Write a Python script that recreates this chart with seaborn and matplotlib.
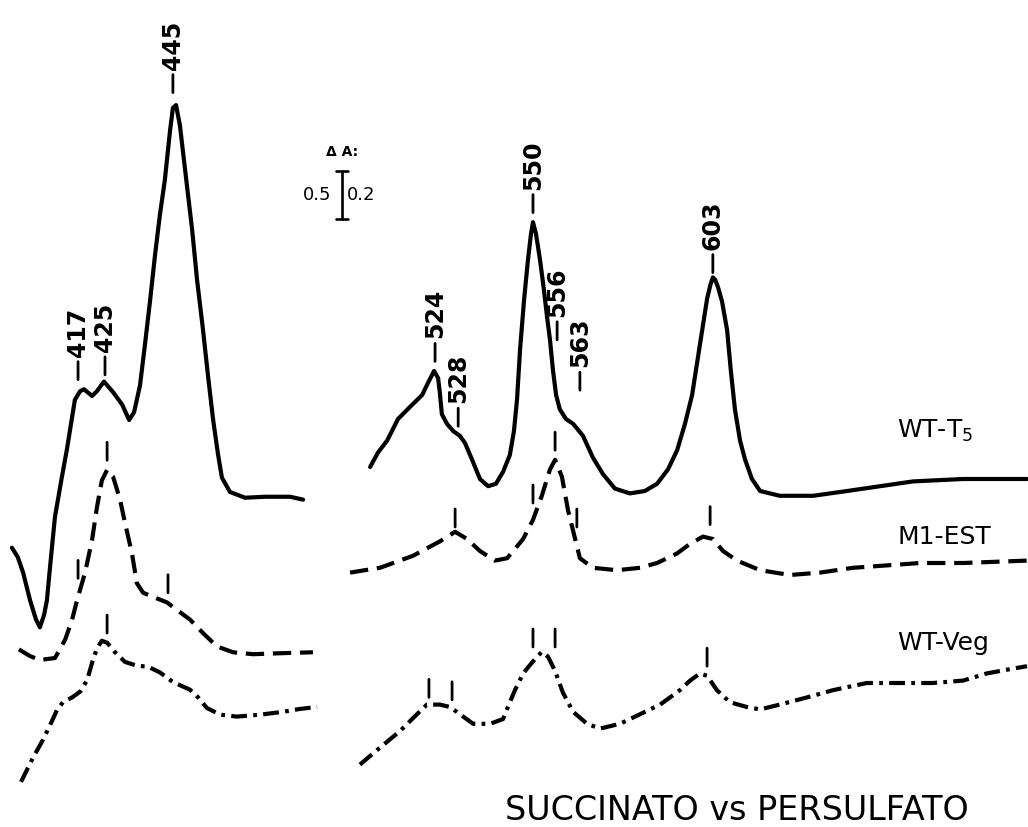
import matplotlib
matplotlib.use("Agg")
import matplotlib.pyplot as plt
from matplotlib.lines import Line2D
import pandas as pd
import seaborn as sns

# ---------------- data ----------------
# Soret region, wavelength in nm, absorbance change in ΔA (scale: 0.5 per bar)
soret_wt_t5_nm = [398.4, 400.1, 401.6, 403.6, 405.3, 406.4, 407.6, 408.4, 409.3, 410.7,
                  412.7, 414.1, 415.6, 416.4, 417.9, 419.0, 421.3, 422.7, 424.7, 427.3,
                  429.9, 431.9, 433.3, 435.0, 436.4, 437.9, 439.3, 440.7, 442.1, 443.6,
                  444.4, 445.3, 446.4, 447.9, 449.9, 451.3, 453.0, 454.4, 455.9, 457.3,
                  458.4, 460.7, 465.0, 470.7, 477.9, 481.6]
soret_wt_t5_dA = [2.91, 2.81, 2.65, 2.36, 2.16, 2.08, 2.21, 2.36, 2.71, 3.23,
                  3.65, 3.93, 4.27, 4.45, 4.54, 4.56, 4.49, 4.54, 4.64, 4.53,
                  4.40, 4.24, 4.32, 4.60, 5.02, 5.49, 5.96, 6.38, 6.74, 7.26,
                  7.49, 7.52, 7.31, 6.84, 6.22, 5.70, 5.18, 4.71, 4.24, 3.88,
                  3.64, 3.49, 3.43, 3.44, 3.44, 3.41]

soret_m1_est_nm = [400.4, 403.6, 406.4, 410.7, 413.6, 415.6, 417.0, 419.3, 421.3, 422.7,
                   424.1, 425.6, 427.3, 429.3, 430.7, 432.7, 434.1, 435.9, 439.9, 442.7,
                   445.6, 449.3, 453.0, 457.0, 461.6, 467.3, 475.0, 484.4]
soret_m1_est_dA = [1.85, 1.78, 1.74, 1.76, 1.95, 2.16, 2.36, 2.65, 2.99, 3.33,
                   3.61, 3.72, 3.65, 3.41, 3.17, 2.85, 2.54, 2.44, 2.38, 2.34,
                   2.26, 2.16, 2.02, 1.88, 1.82, 1.80, 1.81, 1.82]

soret_wt_veg_nm = [401.0, 404.4, 407.3, 409.3, 411.3, 413.0, 415.6, 417.9, 419.9, 421.3,
                   422.7, 424.1, 425.6, 427.9, 430.7, 434.1, 437.3, 440.7, 444.4, 449.3,
                   451.6, 454.1, 457.9, 462.7, 469.3, 475.9, 480.7, 485.6]
soret_wt_veg_dA = [0.47, 0.72, 0.91, 1.06, 1.22, 1.30, 1.35, 1.41, 1.53, 1.71,
                   1.86, 1.94, 1.92, 1.82, 1.72, 1.68, 1.67, 1.61, 1.51, 1.43,
                   1.35, 1.24, 1.17, 1.15, 1.17, 1.20, 1.23, 1.25]

# Visible (alpha/beta) region, ΔA scale: 0.2 per bar
vis_wt_t5_nm = [502.1, 504.4, 507.1, 510.3, 513.8, 517.4, 519.1, 520.9, 522.1, 522.6,
                523.2, 524.7, 526.5, 528.5, 530.0, 532.1, 534.4, 536.8, 539.1, 541.2,
                543.2, 544.4, 545.3, 546.2, 547.4, 548.5, 549.4, 550.0, 550.9, 552.1,
                553.2, 554.1, 555.0, 555.9, 556.8, 557.9, 559.7, 561.8, 564.7, 567.6,
                570.6, 574.1, 578.5, 582.9, 586.5, 589.7, 592.4, 594.7, 596.8, 599.1,
                601.2, 602.2, 602.9, 603.6, 604.4, 605.6, 607.1, 608.2, 609.4, 610.9,
                612.4, 614.4, 616.8, 622.6, 632.4, 642.4, 652.1, 661.8, 676.5, 695.3]
vis_wt_t5_dA = [1.50, 1.56, 1.61, 1.70, 1.75, 1.80, 1.85, 1.90, 1.87, 1.81,
                1.72, 1.68, 1.65, 1.63, 1.60, 1.53, 1.45, 1.42, 1.43, 1.48,
                1.55, 1.65, 1.78, 1.99, 2.20, 2.36, 2.47, 2.52, 2.47, 2.36,
                2.24, 2.13, 2.03, 1.90, 1.80, 1.74, 1.70, 1.68, 1.63, 1.54,
                1.47, 1.41, 1.39, 1.40, 1.43, 1.49, 1.57, 1.68, 1.80, 2.01,
                2.20, 2.26, 2.29, 2.28, 2.25, 2.19, 2.07, 1.90, 1.74, 1.61,
                1.53, 1.45, 1.40, 1.38, 1.38, 1.40, 1.42, 1.44, 1.45, 1.45]

vis_m1_est_nm = [496.2, 505.0, 514.7, 522.6, 527.1, 530.6, 534.4, 538.8, 542.4, 547.1,
                 550.0, 552.6, 555.0, 556.5, 558.5, 560.3, 562.4, 563.8, 567.6, 574.7,
                 581.5, 586.5, 592.4, 596.2, 600.0, 602.9, 605.9, 610.0, 616.8, 625.6,
                 634.4, 644.1, 654.1, 663.8, 676.5, 695.3]
vis_m1_est_dA = [1.06, 1.08, 1.13, 1.19, 1.23, 1.20, 1.15, 1.11, 1.12, 1.20,
                 1.28, 1.38, 1.49, 1.53, 1.46, 1.32, 1.20, 1.12, 1.08, 1.07,
                 1.08, 1.10, 1.14, 1.18, 1.21, 1.20, 1.15, 1.11, 1.07, 1.05,
                 1.06, 1.08, 1.09, 1.10, 1.10, 1.11]

vis_wt_veg_nm = [499.1, 504.1, 510.9, 515.9, 518.8, 522.6, 525.6, 528.5, 532.4, 537.4,
                 541.2, 543.2, 544.7, 547.1, 550.0, 552.6, 554.4, 556.5, 558.8, 561.8,
                 565.9, 569.7, 575.6, 581.5, 587.4, 593.2, 596.2, 599.1, 601.2, 604.1,
                 607.9, 612.9, 616.8, 622.6, 630.6, 638.2, 648.2, 657.9, 667.6, 676.5,
                 683.5, 691.2, 695.3]
vis_wt_veg_dA = [0.26, 0.32, 0.40, 0.47, 0.51, 0.51, 0.50, 0.47, 0.43, 0.43,
                 0.45, 0.52, 0.57, 0.64, 0.69, 0.73, 0.71, 0.65, 0.56, 0.48,
                 0.43, 0.41, 0.43, 0.47, 0.51, 0.57, 0.61, 0.64, 0.63, 0.57,
                 0.52, 0.50, 0.49, 0.51, 0.54, 0.57, 0.60, 0.60, 0.60, 0.61,
                 0.64, 0.66, 0.67]

# Peak labels on WT-T5 (text, chart wavelength, ΔA at foot of marker)
soret_peak_labels = ["417", "425", "445"]
soret_peak_nm = [417.3, 425.0, 444.4]
soret_peak_dA = [4.66, 4.71, 7.65]
vis_peak_labels = ["524", "528", "550", "556", "563", "603"]
vis_peak_nm = [521.2, 528.0, 550.0, 557.1, 563.8, 602.9]
vis_peak_dA = [1.94, 1.67, 2.56, 2.03, 1.82, 2.31]

# Unlabelled peak markers on the other traces
soret_marks_nm = [417.3, 425.6, 443.0, 425.6]
soret_marks_dA = [2.59, 3.82, 2.44, 2.02]
vis_marks_nm = [527.1, 550.0, 556.5, 562.9, 602.1, 519.4, 526.2, 550.0, 556.5, 601.2]
vis_marks_dA = [1.25, 1.35, 1.57, 1.25, 1.26, 0.54, 0.53, 0.75, 0.75, 0.67]

trace_names = ["WT-T$_5$", "M1-EST", "WT-Veg"]
scale_soret = "0.5"
scale_vis = "0.2"
title = "SUCCINATO vs PERSULFATO"

# ---------------- layout ----------------
W, H = 1028, 827
sns.set_theme(style="white")
plt.rcParams['font.family'] = ['DejaVu Sans']
plt.rcParams['text.color'] = 'black'

fig = plt.figure(figsize=(W / 100, H / 100), dpi=100)
fig.patch.set_facecolor("white")

L_PX_NM, R_PX_NM = 3.5, 3.4          # horizontal pixels per nm
L_PX_DA, R_PX_DA = 96.0, 240.0       # vertical pixels per ΔA unit
L_W, R_X0 = 335, 340

ax_l = fig.add_axes([0, 0, L_W / W, 1])
ax_l.set_xlim(395.0, 395.0 + L_W / L_PX_NM)
ax_l.set_ylim(0, H / L_PX_DA)
ax_r = fig.add_axes([R_X0 / W, 0, (W - R_X0) / W, 1])
ax_r.set_xlim(493.24, 493.24 + (W - R_X0) / R_PX_NM)
ax_r.set_ylim(0, H / R_PX_DA)

LW = 3.0
styles = {
    "solid": dict(linestyle="-", solid_capstyle="round", solid_joinstyle="round"),
    "dash": dict(linestyle=(0, (4.4, 2.1)), dash_capstyle="butt"),
    "dashdot": dict(linestyle=(0, (3.8, 1.5, 0.9, 1.5)), dash_capstyle="butt"),
}

traces = [
    (ax_l, soret_wt_t5_nm, soret_wt_t5_dA, "solid"),
    (ax_l, soret_m1_est_nm, soret_m1_est_dA, "dash"),
    (ax_l, soret_wt_veg_nm, soret_wt_veg_dA, "dashdot"),
    (ax_r, vis_wt_t5_nm, vis_wt_t5_dA, "solid"),
    (ax_r, vis_m1_est_nm, vis_m1_est_dA, "dash"),
    (ax_r, vis_wt_veg_nm, vis_wt_veg_dA, "dashdot"),
]
for ax, xs, ys, st in traces:
    df = pd.DataFrame({"nm": xs, "dA": ys})
    sns.lineplot(data=df, x="nm", y="dA", ax=ax, color="black", linewidth=LW,
                 sort=False, estimator=None, **styles[st])

TICK_LEN = 18


def marker(ax, x, y, label=None):
    ax.annotate("", xy=(x, y), xytext=(0, TICK_LEN), textcoords="offset pixels",
                arrowprops=dict(arrowstyle="-", lw=2.0, color="black",
                                shrinkA=0, shrinkB=0))
    if label:
        ax.annotate(label, xy=(x, y), xytext=(0, TICK_LEN + 5),
                    textcoords="offset pixels", rotation=90, ha="center",
                    va="bottom", fontsize=17, fontweight="bold", color="black")


for lab, x, y in zip(soret_peak_labels, soret_peak_nm, soret_peak_dA):
    marker(ax_l, x, y, lab)
for lab, x, y in zip(vis_peak_labels, vis_peak_nm, vis_peak_dA):
    marker(ax_r, x, y, lab)
for x, y in zip(soret_marks_nm, soret_marks_dA):
    marker(ax_l, x, y)
for x, y in zip(vis_marks_nm, vis_marks_dA):
    marker(ax_r, x, y)

for ax in (ax_l, ax_r):
    ax.set_axis_off()

# trace names
for name, ypx in zip(trace_names, [431, 537, 643]):
    fig.text(897 / W, 1 - ypx / H, name, ha="left", va="center", fontsize=18,
             color="black")

# scale bar: 0.5 ΔA (Soret) == 0.2 ΔA (visible)
bar_len = (ax_r.transData.transform((600, 0.2))[1]
           - ax_r.transData.transform((600, 0.0))[1]) / H
bx, btop = 342 / W, 1 - 171 / H
cap = 6.5 / W
for seg in ([(bx, bx), (btop, btop - bar_len)],
            [(bx - cap, bx + cap), (btop, btop)],
            [(bx - cap, bx + cap), (btop - bar_len, btop - bar_len)]):
    fig.add_artist(Line2D(seg[0], seg[1], transform=fig.transFigure,
                          color="black", lw=1.9))
fig.text(342 / W, 1 - 152 / H, "Δ A:", ha="center", va="center", fontsize=10,
         fontweight="bold", color="black")
fig.text(331 / W, btop - bar_len / 2, scale_soret, ha="right", va="center",
         fontsize=13, color="black")
fig.text(347 / W, btop - bar_len / 2, scale_vis, ha="left", va="center",
         fontsize=13, color="black")

fig.text(737 / W, 1 - 810 / H, title, ha="center", va="center", fontsize=24,
         color="black")

fig.savefig("out.png", dpi=100, facecolor="white")
